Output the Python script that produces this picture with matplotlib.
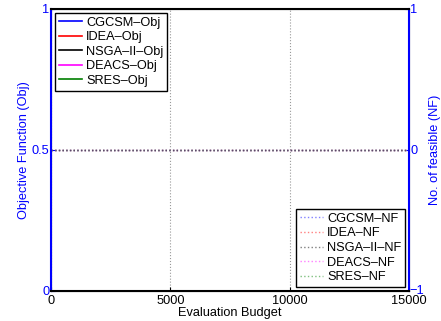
import numpy as np
import matplotlib
matplotlib.use("Agg")
import matplotlib.pyplot as plt

plt.rcParams['font.family'] = ['Liberation Sans', 'DejaVu Sans']

# 数据
budget = [0, 5000, 10000, 15000]
algos = ['CGCSM', 'IDEA', 'NSGA\u2013II', 'DEACS', 'SRES']
obj_colors = ['#0000ff', '#ff0000', '#000000', '#ff00ff', '#007f00']
nf_colors = ['#8080ff', '#ff8080', '#808080', '#ff80ff', '#80c080']
obj_vals = {a: [0, 0, 0, 0] for a in algos}
nf_vals = {a: [0, 0, 0, 0] for a in algos}

fig = plt.figure(figsize=(4.41, 3.21), dpi=100)
ax = fig.add_axes([0.1156, 0.094, 0.812, 0.878])
ax2 = ax.twinx()

for a, c in zip(algos, obj_colors):
    ax.plot(budget, obj_vals[a], color=c, linewidth=1.2, label=a + '\u2013Obj', clip_on=False)
for a, c in zip(algos, nf_colors):
    ax2.plot(budget, nf_vals[a], color=c, linestyle=':', linewidth=1.0, label=a + '\u2013NF')
ax2.plot(budget, nf_vals['CGCSM'], color='#5a4a6a', linestyle=':', linewidth=1.0)

ax.set_xlim(0, 15000)
ax.set_ylim(0, 1)
ax2.set_ylim(-1, 1)
ax.set_xticks([0, 5000, 10000, 15000])
ax.set_yticks([0, 0.5, 1])
ax.set_yticklabels(['0', '0.5', '1'])
ax2.set_yticks([0, 1])
ax2.set_yticklabels(['0', '1'])
ax.xaxis.grid(True, linestyle=':', color='#999999', linewidth=0.8)

fs = 9.2
ax.set_xlabel('Evaluation Budget', fontsize=fs, labelpad=0)
ax.set_ylabel('Objective Function (Obj)', fontsize=fs, color='blue', labelpad=1)
ax2.set_ylabel('No. of feasible (NF)', fontsize=fs, color='blue', labelpad=8)

ax.tick_params(axis='x', labelsize=fs, direction='in', length=3, pad=3, top=False)
ax.tick_params(axis='y', labelsize=fs, direction='in', length=3, pad=1, colors='blue')
ax2.tick_params(axis='y', labelsize=fs, direction='in', length=3, pad=1, colors='blue')
# 右轴 -1 标签单独放，避免被遮挡
ax2.text(1.0, -1, '\u22121', transform=ax2.get_yaxis_transform(), fontsize=fs,
         color='blue', ha='left', va='center', zorder=10, clip_on=False)

ax2.spines['left'].set_color('blue')
ax2.spines['left'].set_linewidth(1.5)
ax2.spines['right'].set_color('blue')
ax2.spines['right'].set_linewidth(1.5)
ax2.spines['top'].set_linewidth(1.5)
ax2.spines['bottom'].set_linewidth(1.5)

leg1 = ax.legend(loc='upper left', fontsize=fs, fancybox=False, edgecolor='black',
                 framealpha=1, handlelength=1.8, borderaxespad=0.3, labelspacing=0.2,
                 handletextpad=0.35, borderpad=0.3)
leg1.get_frame().set_linewidth(1.0)
leg2 = ax2.legend(loc='lower right', fontsize=fs, fancybox=False, edgecolor='black',
                  framealpha=1, handlelength=1.8, borderaxespad=0.3, labelspacing=0.2,
                  handletextpad=0.35, borderpad=0.3)
leg2.get_frame().set_linewidth(1.0)

fig.savefig('out.png', dpi=100)
